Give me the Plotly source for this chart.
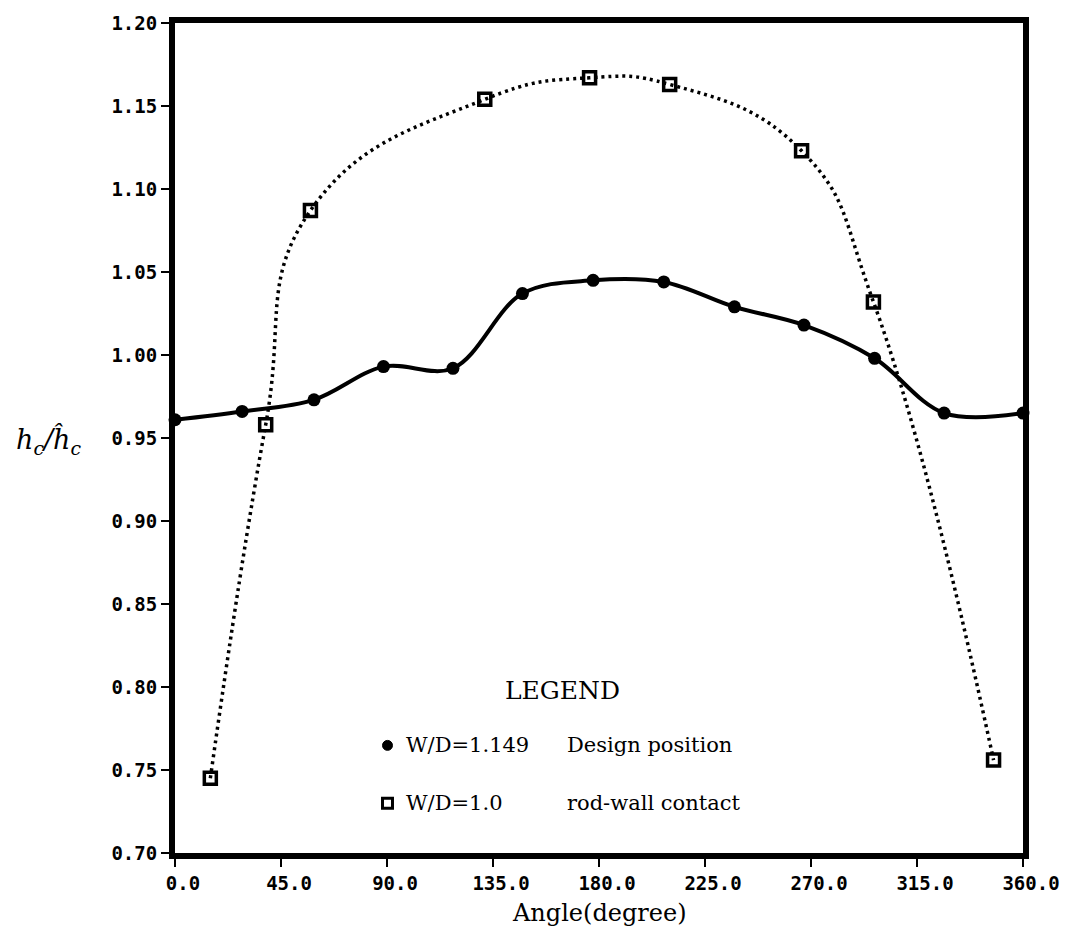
import plotly.graph_objects as go

# W/D = 1.149, design position (filled circles, solid curve)
design_angle = [0, 28.5, 59, 88.5, 118, 147.5, 177.5, 207.5, 237.5, 267, 297, 326.5, 360]
design_ratio = [0.961, 0.966, 0.973, 0.993, 0.992, 1.037, 1.045, 1.044, 1.029, 1.018, 0.998, 0.965, 0.965]

# W/D = 1.0, rod-wall contact (open squares, dotted curve)
contact_angle = [15, 38.5, 57.5, 131.5, 176, 210, 266, 296.5, 347.5]
contact_ratio = [0.745, 0.958, 1.087, 1.154, 1.167, 1.163, 1.123, 1.032, 0.756]

x_ticks = [0, 45, 90, 135, 180, 225, 270, 315, 360]
x_tick_text = ["0.0", "45.0", "90.0", "135.0", "180.0", "225.0", "270.0", "315.0", "360.0"]
y_ticks = [0.70, 0.75, 0.80, 0.85, 0.90, 0.95, 1.00, 1.05, 1.10, 1.15, 1.20]
y_tick_text = ["0.70", "0.75", "0.80", "0.85", "0.90", "0.95", "1.00", "1.05", "1.10", "1.15", "1.20"]

SERIF = "DejaVu Serif"
MONO = "DejaVu Sans Mono"

fig = go.Figure()

fig.add_trace(go.Scatter(
    x=contact_angle, y=contact_ratio, mode="lines+markers",
    line=dict(color="black", width=3.5, dash="3px,4px", shape="spline", smoothing=1.3),
    marker=dict(symbol="square-open", size=12, color="black", line=dict(width=3.5, color="black")),
    showlegend=False, cliponaxis=False,
))

fig.add_trace(go.Scatter(
    x=design_angle, y=design_ratio, mode="lines+markers",
    line=dict(color="black", width=4, shape="spline", smoothing=1.0),
    marker=dict(symbol="circle", size=13, color="black"),
    showlegend=False, cliponaxis=False,
))

W, H = 1072, 937
L, R, T, B = 175, 47, 20, 84
PW, PH = W - L - R, H - T - B


def px(x):
    return (x - L) / PW


def py(y):
    return (H - B - y) / PH


legend_font = dict(family=SERIF, size=21, color="black")
annotations = [
    dict(text="LEGEND", x=px(563), y=py(690), xanchor="center", yanchor="middle",
         font=dict(family=SERIF, size=25, color="black")),
    dict(text="W/D=1.149", x=px(405), y=py(745), xanchor="left", yanchor="middle"),
    dict(text="Design position", x=px(566), y=py(745), xanchor="left", yanchor="middle"),
    dict(text="W/D=1.0", x=px(405), y=py(803), xanchor="left", yanchor="middle"),
    dict(text="rod-wall contact", x=px(566), y=py(803), xanchor="left", yanchor="middle"),
    dict(text="Angle(degree)", x=0.5, y=py(913), xanchor="center", yanchor="middle",
         font=dict(family=SERIF, size=24, color="black")),
    dict(text="<i>h<sub>c</sub>/ĥ<sub>c</sub></i>", x=px(48), y=py(440),
         xanchor="center", yanchor="middle",
         font=dict(family=SERIF, size=27, color="black")),
]
for a in annotations:
    a.setdefault("font", legend_font)
    a.update(xref="paper", yref="paper", showarrow=False)

# legend symbols
shapes = [
    dict(type="circle", xref="paper", yref="paper",
         x0=px(383), x1=px(393), y0=py(740), y1=py(750),
         fillcolor="black", line=dict(color="black", width=1)),
    dict(type="rect", xref="paper", yref="paper",
         x0=px(383), x1=px(393), y0=py(798), y1=py(808),
         fillcolor="white", line=dict(color="black", width=3)),
]

axis_common = dict(
    showline=True, linecolor="black", linewidth=6, mirror=True,
    showgrid=False, zeroline=False, ticks="outside", ticklen=8, tickwidth=2,
    tickcolor="black", tickfont=dict(family=MONO, size=19, color="black", weight="bold"),
)

fig.update_layout(
    width=W, height=H,
    margin=dict(l=L, r=R, t=T, b=B),
    paper_bgcolor="white", plot_bgcolor="white",
    xaxis=dict(range=[0, 360], tickvals=x_ticks, ticktext=x_tick_text,
               ticklabelshift=8, **axis_common),
    yaxis=dict(range=[0.70, 1.20], tickvals=y_ticks, ticktext=y_tick_text, **axis_common),
    annotations=annotations,
    shapes=shapes,
)

fig.write_html("out.html")
